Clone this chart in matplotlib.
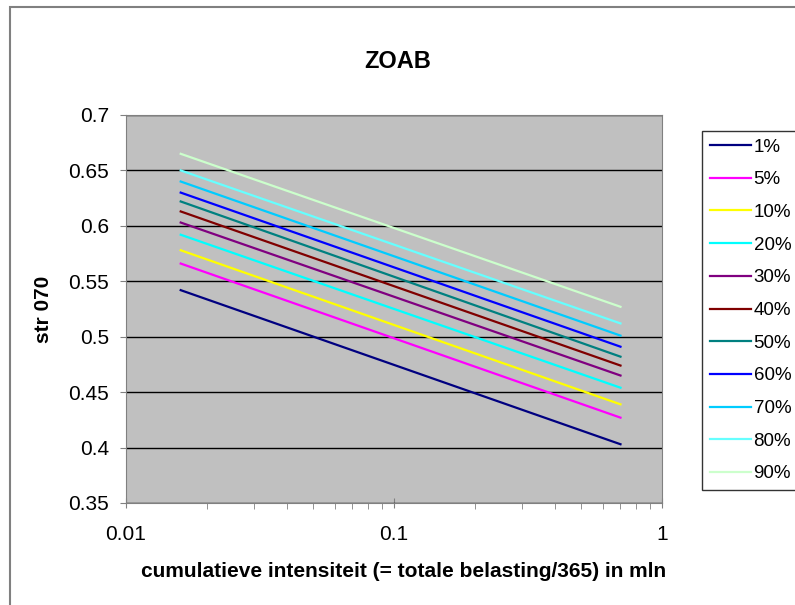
import matplotlib.pyplot as plt
from matplotlib.patches import Rectangle
from matplotlib.ticker import FixedLocator, NullFormatter

plt.rcParams['font.family'] = ['Liberation Sans', 'DejaVu Sans']

# x range of the lines (cumulative intensity, mln)
x_vals = [0.016, 0.70]

labels = ['1%', '5%', '10%', '20%', '30%', '40%', '50%', '60%', '70%', '80%', '90%']
start_vals = [0.542, 0.566, 0.578, 0.592, 0.603, 0.613, 0.622, 0.630, 0.640, 0.650, 0.665]
end_vals = [0.403, 0.427, 0.439, 0.454, 0.465, 0.474, 0.482, 0.491, 0.501, 0.512, 0.527]
colors = ['#000080', '#FF00FF', '#FFFF00', '#00FFFF', '#800080', '#800000',
          '#008080', '#0000FF', '#00CCFF', '#66FFFF', '#CCFFCC']

W, H = 795, 605
fig = plt.figure(figsize=(W / 100, H / 100), dpi=100)

# chart area border (runs off the bottom/right edge like the screenshot)
fig.patches.append(Rectangle((9.5 / W, -0.1), 1.2, 1 - 7 / H + 0.1,
                             transform=fig.transFigure, fill=False,
                             edgecolor='#808080', lw=1.5))

ax = fig.add_axes([126 / W, 1 - 503 / H, (662 - 126) / W, (503 - 115) / H])
ax.set_facecolor('#C0C0C0')

for lab, s, e, c in zip(labels, start_vals, end_vals, colors):
    ax.plot(x_vals, [s, e], color=c, lw=1.6, label=lab)

ax.set_xscale('log')
ax.set_xlim(0.01, 1)
ax.set_ylim(0.35, 0.7)
ax.set_yticks([0.35, 0.4, 0.45, 0.5, 0.55, 0.6, 0.65, 0.7])
ax.set_yticklabels(['0.35', '0.4', '0.45', '0.5', '0.55', '0.6', '0.65', '0.7'])
ax.set_xticks([0.01, 0.1, 1])
ax.set_xticklabels(['0.01', '0.1', '1'])
minors = [m * d for d in (0.01, 0.1) for m in range(2, 10)]
ax.xaxis.set_minor_locator(FixedLocator(minors))
ax.xaxis.set_minor_formatter(NullFormatter())

ax.yaxis.grid(True, color='black', lw=1)
ax.set_axisbelow(True)
for side in ax.spines:
    ax.spines[side].set_color('#808080')

ax.tick_params(axis='y', which='major', labelsize=15, color='#808080', length=4, pad=8)
ax.tick_params(axis='x', which='major', labelsize=15, color='#808080',
               direction='inout', length=7, pad=12)
ax.tick_params(axis='x', which='minor', color='#808080', length=4)

ax.set_title('ZOAB', fontsize=17, fontweight='bold', pad=34, x=0.507)
ax.set_xlabel('cumulatieve intensiteit (= totale belasting/365) in mln',
              fontsize=15, fontweight='bold', labelpad=13)
ax.xaxis.label.set_x(0.517)
ax.set_ylabel('str 070', fontsize=15, fontweight='bold', labelpad=11)

leg = ax.legend(loc='upper left', bbox_to_anchor=(702 / W, 1 - 131 / H),
                bbox_transform=fig.transFigure, fontsize=13.5, frameon=True,
                fancybox=False, edgecolor='black', handlelength=2.2,
                labelspacing=0.83, borderpad=0.4, borderaxespad=0,
                handletextpad=0.15)
leg.get_frame().set_linewidth(1)

fig.savefig('out.png', dpi=100)
